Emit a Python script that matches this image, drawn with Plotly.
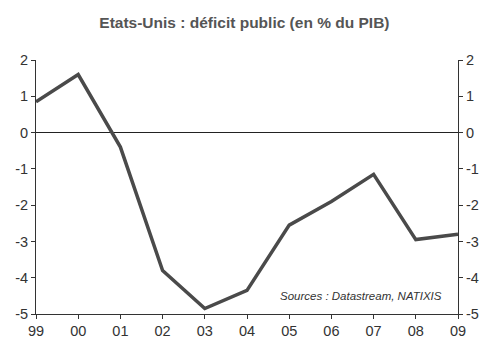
import plotly.graph_objects as go

years = ["99", "00", "01", "02", "03", "04", "05", "06", "07", "08", "09"]
deficit = [0.85, 1.6, -0.4, -3.8, -4.85, -4.35, -2.55, -1.9, -1.15, -2.95, -2.8]
y_ticks = [2, 1, 0, -1, -2, -3, -4, -5]
y_labels = [str(v) for v in y_ticks]

xs = list(range(len(years)))
fig = go.Figure()
fig.add_trace(go.Scatter(x=xs, y=deficit, mode="lines",
                         line=dict(color="#4a4a4a", width=3.5), showlegend=False))
fig.add_trace(go.Scatter(x=xs, y=deficit, yaxis="y2", mode="lines",
                         line=dict(width=0), hoverinfo="skip", showlegend=False))

ff = "Liberation Sans, Arial, sans-serif"
font = dict(family=ff, size=14.5, color="#333333")
fig.update_layout(
    width=484, height=342,
    margin=dict(l=36, r=26, t=60, b=28),
    paper_bgcolor="white", plot_bgcolor="white",
    font=font,
    title=dict(text="<b>Etats-Unis : déficit public (en % du PIB)</b>",
               x=0.505, xanchor="center", y=0.935, yanchor="middle",
               font=dict(family=ff, size=15.5, color="#555555")),
    xaxis=dict(range=[0, 10], tickvals=xs, ticktext=years, showgrid=False,
               zeroline=False, showline=True, linecolor="#333333", linewidth=1,
               ticks="outside", ticklen=4, tickcolor="#333333", tickfont=font,
               automargin=False),
    yaxis=dict(range=[-5, 2], tickvals=y_ticks, ticktext=y_labels, showgrid=False,
               zeroline=True, zerolinecolor="#222222", zerolinewidth=1,
               showline=True, linecolor="#333333", linewidth=1,
               ticks="outside", ticklen=4, tickcolor="#333333", tickfont=font,
               automargin=False),
    yaxis2=dict(range=[-5, 2], tickvals=y_ticks, ticktext=y_labels, overlaying="y",
                side="right", showgrid=False, zeroline=False, showline=True,
                linecolor="#333333", linewidth=1, ticks="outside", ticklen=4,
                tickcolor="#333333", tickfont=font, automargin=False),
    annotations=[dict(text="<i>Sources : Datastream, NATIXIS</i>", x=0.967, y=-4.5,
                      xref="paper", yref="y", xanchor="right", yanchor="middle",
                      showarrow=False,
                      font=dict(family=ff, size=11.5, color="#333333"))],
)
fig.write_html("out.html")
